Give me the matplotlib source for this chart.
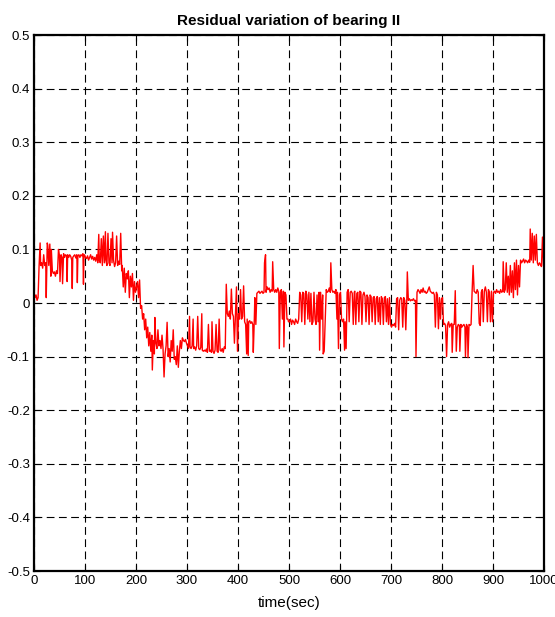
import matplotlib
matplotlib.use("Agg")
import matplotlib.pyplot as plt

# residual of bearing II
time_s = [
    0, 2, 4, 6, 8, 10, 12, 13, 15, 17, 19, 21, 23, 24, 25, 26, 27, 29, 31, 33,
    34, 36, 38, 40, 42, 44, 46, 48, 50, 51, 53, 55, 56, 58, 60, 62, 64, 65, 66, 68,
    70, 72, 74, 75, 76, 78, 80, 82, 84, 85, 86, 88, 90, 92, 94, 96, 97, 98, 99,
    101, 103, 105, 107, 109, 111, 113, 115, 117, 119, 121, 123, 125, 127, 128, 130,
    132, 134, 136, 138, 140, 141, 143, 145, 147, 149, 151, 153, 154, 156, 158, 160,
    162, 164, 166, 168, 170, 172, 173, 175, 177, 179, 181, 183, 185, 187, 189, 191,
    193, 195, 197, 199,
    201, 203, 205, 207, 209, 211, 213, 215, 217, 219, 221, 223, 225, 227, 229, 231,
    232, 234, 236, 237, 239, 241, 243, 245, 247, 249, 251, 253, 255, 257, 259, 261,
    263, 265, 267, 269, 271, 273, 275, 277, 279, 281, 283, 285, 287, 289, 291, 293,
    295, 297, 299,
    301, 303, 305, 306, 308, 310, 312, 313, 315, 317, 319, 321, 323, 325, 327, 329,
    330, 332, 334, 336, 338, 340, 342, 344, 346, 348, 349, 351, 353, 355, 357, 359,
    361, 363, 365, 367, 369, 371, 373, 375, 377, 379, 381, 383, 385, 387, 389, 391,
    393, 395, 397, 399,
    401, 403, 405, 407, 409, 411, 413, 415, 417, 418, 420, 421, 423, 425, 427, 429,
    430, 432, 433, 435, 437, 439, 441, 443, 445, 447, 449, 451, 452, 454, 455, 457,
    459, 461, 463, 465, 467, 468, 470, 472, 474, 476, 478, 480, 481, 483, 485, 487,
    489, 490, 492, 494, 496, 498, 499,
    501, 503, 505, 507, 509, 511, 513, 515, 517, 519, 521, 523, 525, 527, 529, 531,
    533, 535, 537, 539, 541, 543, 545, 547, 549, 551, 553, 555, 557, 559, 560, 562,
    564, 566, 567, 569, 571, 573, 575, 577, 579, 581, 582, 584, 586, 588, 590, 592,
    594, 595, 597, 599,
    601, 603, 605, 607, 609, 610, 612, 614, 616, 618, 620, 622, 624, 626, 628, 629,
    631, 633, 635, 637, 639, 641, 643, 645, 647, 649, 651, 653, 655, 657, 659, 661,
    663, 665, 667, 669, 671, 673, 675, 677, 679, 681, 683, 685, 687, 689, 691, 693,
    695, 697, 699,
    701, 703, 705, 707, 709, 711, 713, 715, 717, 719, 721, 723, 725, 727, 729, 731,
    732, 734, 736, 738, 740, 742, 744, 746, 748, 749, 751, 753, 755, 757, 759, 761,
    763, 765, 767, 769, 771, 773, 775, 777, 779, 781, 783, 785, 787, 789, 791, 793,
    795, 797, 799,
    801, 803, 805, 807, 809, 811, 813, 815, 817, 819, 820, 822, 824, 826, 828, 830,
    832, 834, 835, 837, 839, 841, 843, 845, 846, 848, 850, 851, 853, 855, 857, 859,
    861, 863, 865, 867, 869, 871, 873, 875, 877, 879, 881, 883, 885, 887, 889, 891,
    893, 895, 897, 899,
    901, 903, 905, 907, 909, 911, 913, 915, 917, 919, 920, 922, 924, 926, 928, 930,
    932, 934, 936, 938, 940, 942, 944, 946, 948, 950, 952, 954, 956, 958, 960, 962,
    964, 966, 968, 970, 972, 973, 975, 977, 979, 981, 983, 985, 987, 989, 991, 993,
    995, 997, 999, 1000,
]

residual = [
    0.02, 0.01, 0.015, 0.005, 0.01, 0.07, 0.112, 0.07, 0.075, 0.065, 0.09, 0.07, 0.075, 0.01, 0.06, 0.112, 0.108, 0.07, 0.11, 0.05,
    0.10, 0.06, 0.055, 0.058, 0.05, 0.06, 0.055, 0.1, 0.088, 0.04, 0.09, 0.085, 0.036, 0.092, 0.085, 0.09, 0.088, 0.04, 0.09, 0.085,
    0.09, 0.087, 0.08, 0.027, 0.085, 0.088, 0.09, 0.084, 0.09, 0.038, 0.088, 0.09, 0.085, 0.09, 0.088, 0.092, 0.035, 0.088, 0.09,
    0.085, 0.083, 0.088, 0.08, 0.085, 0.09, 0.082, 0.087, 0.08, 0.085, 0.078, 0.09, 0.075, 0.128, 0.08, 0.075,
    0.12, 0.07, 0.125, 0.075, 0.133, 0.08, 0.07, 0.13, 0.075, 0.07, 0.12, 0.075, 0.132, 0.08, 0.068, 0.075,
    0.125, 0.07, 0.078, 0.072, 0.13, 0.06, 0.07, 0.03, 0.065, 0.02, 0.055, 0.045, 0.06, 0.01, 0.05, 0.03,
    0.055, 0.005, 0.04, 0.02,
    0.03, 0.04, 0.01, 0.043, -0.01, -0.005, -0.03, -0.02, -0.05, -0.03, -0.065, -0.045, -0.08, -0.055, -0.09, -0.06,
    -0.125, -0.07, -0.095, -0.027, -0.075, -0.085, -0.05, -0.08, -0.07, -0.085, -0.06, -0.085, -0.138, -0.095, -0.08, -0.036,
    -0.1, -0.085, -0.11, -0.07, -0.09, -0.05, -0.105, -0.1, -0.115, -0.08, -0.12, -0.09, -0.07, -0.085, -0.065, -0.07,
    -0.072, -0.068, -0.075,
    -0.08, -0.085, -0.025, -0.082, -0.085, -0.08, -0.03, -0.085, -0.082, -0.088, -0.08, -0.025, -0.085, -0.087, -0.083, -0.02,
    -0.088, -0.09, -0.088, -0.09, -0.086, -0.092, -0.04, -0.09, -0.088, -0.092, -0.035, -0.09, -0.094, -0.088, -0.04, -0.09,
    -0.092, -0.03, -0.088, -0.09, -0.085, -0.092, -0.082, -0.085, 0.035, -0.02, -0.025, -0.015, -0.03, 0.026, -0.02, -0.025,
    -0.075, -0.02, 0.03, -0.09,
    -0.02, -0.03, 0.025, -0.03, -0.025, 0.032, -0.035, -0.04, -0.095, -0.03, -0.098, -0.035, -0.033, -0.038, -0.035, -0.04,
    -0.092, -0.03, 0.01, -0.04, 0.018, 0.02, 0.022, 0.018, 0.02, 0.022, 0.018, 0.02, 0.075, 0.09, 0.02, 0.03,
    0.025, 0.028, 0.02, 0.025, 0.022, 0.077, 0.025, 0.02, 0.025, 0.02, 0.028, 0.022, -0.085, 0.02, 0.025, -0.03,
    0.022, -0.082, 0.02, 0.015, -0.03, -0.03, -0.035,
    -0.035, -0.03, -0.04, -0.032, -0.035, -0.04, -0.03, -0.035, -0.038, -0.03, 0.02, 0.015, -0.035, 0.02, 0.018, -0.04,
    0.022, 0.015, -0.03, 0.02, -0.035, 0.018, -0.04, -0.035, 0.02, -0.03, -0.04, 0.015, -0.035, 0.02, -0.088, 0.02,
    -0.03, 0.015, -0.095, -0.09, -0.03, 0.025, 0.02, 0.022, 0.028, 0.02, 0.075, 0.025, 0.02, 0.022, 0.018, 0.025,
    -0.03, 0.02, -0.085, 0.015,
    0.02, -0.03, -0.035, -0.03, -0.088, -0.035, -0.085, 0.02, 0.025, -0.035, 0.02, 0.022, 0.018, -0.04, 0.02, 0.022,
    -0.04, 0.018, 0.02, -0.035, 0.022, 0.02, -0.04, 0.015, 0.02, 0.012, -0.035, 0.015, 0.01, -0.04, 0.015, 0.012,
    -0.035, 0.01, 0.012, -0.04, 0.008, 0.012, -0.035, 0.01, -0.04, 0.012, 0.008, -0.04, 0.01, 0.012, -0.035, 0.008,
    -0.04, 0.01, -0.04,
    -0.045, -0.04, -0.042, -0.038, -0.045, 0.008, 0.01, -0.05, 0.005, 0.01, 0.008, -0.045, 0.01, 0.005, -0.05, 0.008,
    0.058, 0.005, 0.008, 0.004, 0.006, 0.005, 0.008, 0.004, 0.005, -0.1, 0.02, 0.025, 0.022, 0.018, 0.025, 0.02,
    0.028, 0.02, 0.022, 0.018, 0.02, 0.025, 0.03, 0.022, 0.02, 0.018, 0.02, 0.015, -0.045, 0.02, 0.015, -0.048,
    0.01, -0.03, 0.008,
    0.01, -0.04, -0.038, -0.042, -0.1, -0.04, -0.035, -0.045, -0.04, -0.038, -0.092, -0.04, -0.04, 0.023, -0.09, -0.045,
    -0.04, -0.042, -0.09, -0.04, -0.045, -0.042, -0.04, -0.045, -0.1, -0.04, -0.045, -0.102, -0.04, -0.042, -0.04, 0.02,
    0.07, 0.022, 0.02, 0.018, 0.025, 0.02, -0.038, -0.042, 0.02, 0.025, -0.035, 0.022, 0.03, 0.02, -0.035, 0.025,
    0.02, -0.035, 0.022, -0.035,
    0.02, 0.022, 0.018, 0.025, 0.02, 0.022, 0.018, 0.025, 0.02, 0.022, 0.077, 0.02, 0.025, 0.075, 0.02, 0.05,
    0.015, 0.07, 0.02, 0.06, 0.01, 0.075, 0.025, 0.08, 0.015, 0.07, 0.03, 0.08, 0.075, 0.078, 0.082, 0.075,
    0.08, 0.078, 0.075, 0.08, 0.076, 0.138, 0.08, 0.13, 0.075, 0.125, 0.08, 0.128, 0.075, 0.07, 0.075, 0.072,
    0.068, 0.123, 0.07, 0.066,
]

x_ticks = [0, 100, 200, 300, 400, 500, 600, 700, 800, 900, 1000]
y_ticks = [-0.5, -0.4, -0.3, -0.2, -0.1, 0, 0.1, 0.2, 0.3, 0.4, 0.5]
y_tick_labels = ["-0.5", "-0.4", "-0.3", "-0.2", "-0.1", "0",
                 "0.1", "0.2", "0.3", "0.4", "0.5"]

plt.rcParams["font.family"] = ["Liberation Sans", "DejaVu Sans"]

fig = plt.figure(figsize=(5.55, 6.17), dpi=100)
ax = fig.add_axes([34 / 555, 46 / 617, 510 / 555, 536 / 617])

ax.plot(time_s, residual, color="red", linewidth=1.0)

ax.set_xlim(0, 1000)
ax.set_ylim(-0.5, 0.5)
ax.set_xticks(x_ticks)
ax.set_xticklabels([str(v) for v in x_ticks])
ax.set_yticks(y_ticks)
ax.set_yticklabels(y_tick_labels)
ax.tick_params(direction="in", length=4, width=0.8, labelsize=9.5,
               top=True, right=True, pad=3)

ax.grid(True, color="black", linestyle=(0, (7, 4)), linewidth=0.8)
for sp in ax.spines.values():
    sp.set_linewidth(1.6)

ax.set_title("Residual variation of bearing II", fontsize=11,
             fontweight="bold", pad=7)
ax.set_xlabel("time(sec)", fontsize=11, labelpad=6)

fig.savefig("out.png", dpi=100)
